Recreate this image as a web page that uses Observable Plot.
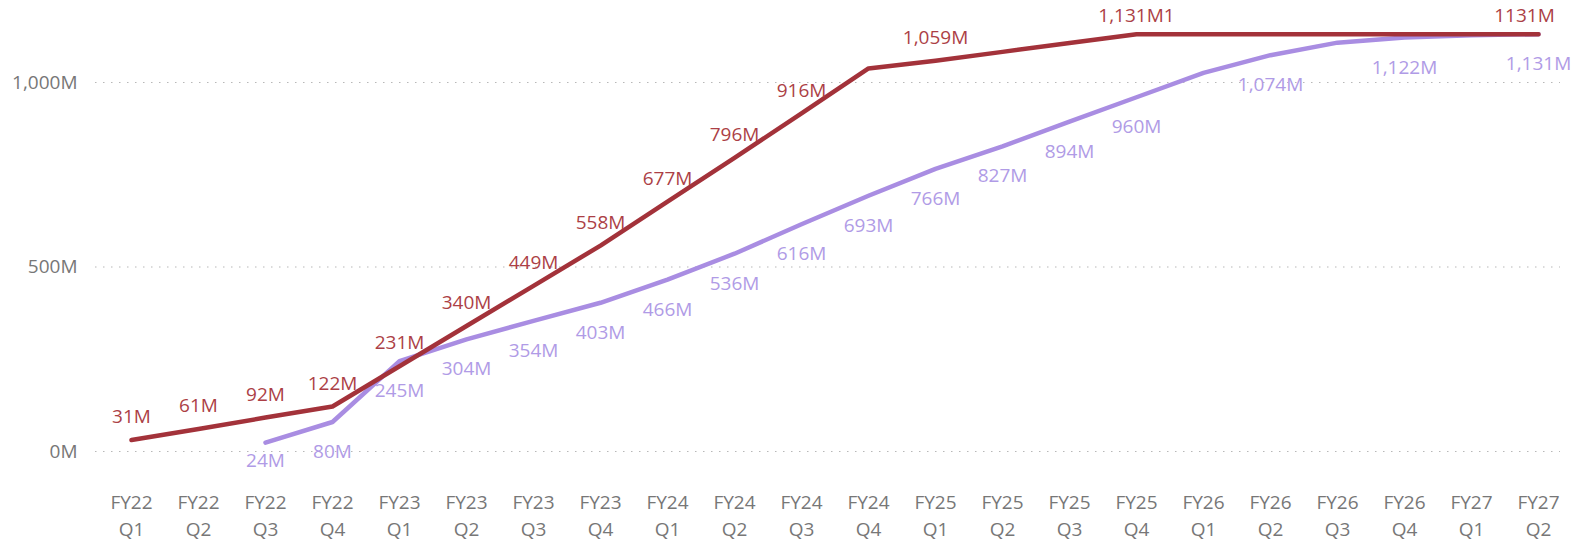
<!DOCTYPE html>
<html>
<head>
<meta charset="utf-8">
<script src="https://cdn.jsdelivr.net/npm/d3@7"></script>
<script src="https://cdn.jsdelivr.net/npm/@observablehq/plot@0.6"></script>
<style>
  html, body { margin: 0; padding: 0; background: #fff; }
  #chart svg { display: block; }
</style>
</head>
<body>
<div id="chart"></div>
<script>
const quarters = [
  "FY22 Q1","FY22 Q2","FY22 Q3","FY22 Q4",
  "FY23 Q1","FY23 Q2","FY23 Q3","FY23 Q4",
  "FY24 Q1","FY24 Q2","FY24 Q3","FY24 Q4",
  "FY25 Q1","FY25 Q2","FY25 Q3","FY25 Q4",
  "FY26 Q1","FY26 Q2","FY26 Q3","FY26 Q4",
  "FY27 Q1","FY27 Q2"
];
const redValues = [31,61,92,122,231,340,449,558,677,796,916,1038,1059,1083,1107,1131,1131,1131,1131,1131,1131,1131];
const redLabels = ["31M","61M","92M","122M","231M","340M","449M","558M","677M","796M","916M","","1,059M","","","1,131M1","","","","","","1131M"];
const purpleValues = [null,null,24,80,245,304,354,403,466,536,616,693,766,827,894,960,1026,1074,1108,1122,1128,1131];
const purpleLabels = ["","","24M","80M","245M","304M","354M","403M","466M","536M","616M","693M","766M","827M","894M","960M","","1,074M","","1,122M","","1,131M"];
const yTicks = [0, 500, 1000];

const red = quarters.map((q, i) => ({q, v: redValues[i], label: redLabels[i]}));
const purple = quarters.map((q, i) => ({q, v: purpleValues[i], label: purpleLabels[i]})).filter(d => d.v != null);

const font = "'Segoe UI', 'Open Sans', sans-serif";
const fmtY = v => d3.format(",")(v) + "M";
const redFill = "#ac3f46", purpleFill = "#b09be6";

// labels near the chart edges are pulled inward, as in the reference
const redLab = red.filter(d => d.label);
const purpleLab = purple.filter(d => d.label);

const chart = Plot.plot({
  width: 1582,
  height: 545,
  marginLeft: 95,
  marginRight: 22,
  marginTop: 10,
  marginBottom: 63,
  style: {fontFamily: font, background: "#fff"},
  x: {type: "point", domain: quarters, range: [122, 1546], padding: 0},
  y: {domain: [0, 1000], range: [451, 82]},
  marks: [
    Plot.gridY(yTicks, {stroke: "#b8b8b8", strokeOpacity: 1, strokeDasharray: "1.5,6.5", strokeWidth: 1.2}),
    Plot.axisY(yTicks, {tickSize: 0, tickPadding: 18, tickFormat: fmtY, fontSize: 19, fill: "#777", label: null}),
    Plot.axisX({tickSize: 0, tickPadding: 8, tickFormat: d => d.replace(" ", "\n"), fontSize: 19, lineHeight: 1.4, fill: "#777", label: null}),
    Plot.line(purple, {x: "q", y: "v", stroke: "#a98de2", strokeWidth: 4.5}),
    Plot.line(red, {x: "q", y: "v", stroke: "#a3323a", strokeWidth: 4.5}),
    Plot.text(purpleLab.filter(d => d.v >= 50), {x: "q", y: "v", text: "label", dy: 30, fill: purpleFill, fontSize: 19}),
    Plot.text(purpleLab.filter(d => d.v < 50), {x: "q", y: "v", text: "label", dy: 18, fill: purpleFill, fontSize: 19}),
    Plot.text(redLab.filter(d => d.v < 1100), {x: "q", y: "v", text: "label", dy: -23, fill: redFill, fontSize: 19}),
    Plot.text(redLab.filter(d => d.v >= 1100 && d.q !== quarters[quarters.length - 1]), {x: "q", y: "v", text: "label", dy: -18, fill: redFill, fontSize: 19}),
    Plot.text(redLab.filter(d => d.q === quarters[quarters.length - 1]), {x: "q", y: "v", text: "label", dy: -18, dx: -14, fill: redFill, fontSize: 19})
  ]
});
document.getElementById("chart").append(chart);
</script>
</body>
</html>
